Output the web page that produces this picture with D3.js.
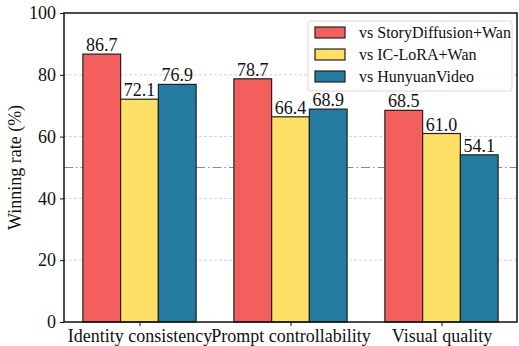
<!DOCTYPE html>
<html><head><meta charset="utf-8">
<script src="https://cdn.jsdelivr.net/npm/d3@7"></script>
<style>body{margin:0;background:#fff}svg{display:block}</style>
</head><body>
<svg id="c" width="519" height="346" font-family="Liberation Serif, Times New Roman, serif"></svg>
<script>
const categories = ["Identity consistency","Prompt controllability","Visual quality"];
const seriesNames = ["vs StoryDiffusion+Wan","vs IC-LoRA+Wan","vs HunyuanVideo"];
const storyDiffusion = [86.7, 78.7, 68.5];
const icLora = [72.1, 66.4, 61.0];
const hunyuan = [76.9, 68.9, 54.1];
const yTicks = [0,20,40,60,80,100];
const colors = ["#F25F5C","#FFE066","#247BA0"];
const series = [storyDiffusion, icLora, hunyuan];
const FONT = "'Liberation Serif', 'Times New Roman', serif";

const svg = d3.select("#c");
const L = 64, R = 517, T = 13, B = 322;
const x = d3.scaleLinear().domain([-0.5, 2.5]).range([L, R]);
const y = d3.scaleLinear().domain([0, 100]).range([B, T]);
const bw = 0.25;

// grid
svg.append("g").selectAll("line").data([20,40,60,80]).join("line")
  .attr("x1", L).attr("x2", R).attr("y1", d=>y(d)).attr("y2", d=>y(d))
  .attr("stroke", "#c8c8c8").attr("stroke-width", 0.8).attr("stroke-dasharray", "3,2");
svg.append("line").attr("x1", L).attr("x2", R).attr("y1", y(50)).attr("y2", y(50))
  .attr("stroke", "#8a8a8a").attr("stroke-width", 1).attr("stroke-dasharray", "9,3,1.5,3");

// bars
series.forEach((vals, si) => {
  const g = svg.append("g");
  g.selectAll("rect").data(vals).join("rect")
    .attr("x", (d,i)=>x(i + (si-1)*bw - bw/2))
    .attr("width", x(bw)-x(0))
    .attr("y", d=>y(d)).attr("height", d=>y(0)-y(d))
    .attr("fill", colors[si]).attr("stroke", "#222").attr("stroke-width", 1.2);
  g.selectAll("text").data(vals).join("text")
    .attr("x", (d,i)=>x(i + (si-1)*bw))
    .attr("y", d=>y(d)-3)
    .attr("text-anchor", "middle").attr("font-size", 18).attr("fill", "#111")
    .text(d=>d.toFixed(1));
});

// axes
const ya = d3.axisLeft(y).tickValues(yTicks).tickSize(4).tickPadding(4).tickFormat(d3.format("d"));
const yg = svg.append("g").attr("transform", `translate(${L},0)`).call(ya);
yg.select(".domain").remove();
yg.selectAll("text").attr("font-size", 18).attr("fill", "#111");
yg.selectAll("line").attr("stroke", "#111");

const xa = d3.axisBottom(x).tickValues([0,1,2]).tickSize(4).tickPadding(3).tickFormat(i=>categories[i]);
const xg = svg.append("g").attr("transform", `translate(0,${B})`).call(xa);
xg.select(".domain").remove();
xg.selectAll("text").attr("font-size", 18).attr("fill", "#111");
xg.selectAll("line").attr("stroke", "#111");

// frame
svg.append("rect").attr("x", L).attr("y", T).attr("width", R-L).attr("height", B-T)
  .attr("fill", "none").attr("stroke", "#111").attr("stroke-width", 1.5);

// y label
svg.append("text").attr("transform", `translate(20.5,${(T+B)/2}) rotate(-90)`)
  .attr("text-anchor", "middle").attr("font-size", 18).attr("fill", "#111").text("Winning rate (%)");

// legend
const lg = svg.append("g");
lg.append("rect").attr("x", 308).attr("y", 21).attr("width", 204).attr("height", 70).attr("rx", 3)
  .attr("fill", "#fff").attr("fill-opacity", 0.85).attr("stroke", "#d8d8d8");
seriesNames.forEach((n, i) => {
  const yy = 33 + i*22;
  lg.append("rect").attr("x", 315).attr("y", yy-6).attr("width", 30).attr("height", 11)
    .attr("fill", colors[i]).attr("stroke", "#222").attr("stroke-width", 1.2);
  lg.append("text").attr("x", 359).attr("y", yy+5).attr("font-size", 16).attr("fill", "#111").text(n);
});

svg.selectAll("g").attr("font-family", null);
svg.selectAll("text").attr("font-family", FONT).style("font-family", FONT);
</script>
</body></html>
